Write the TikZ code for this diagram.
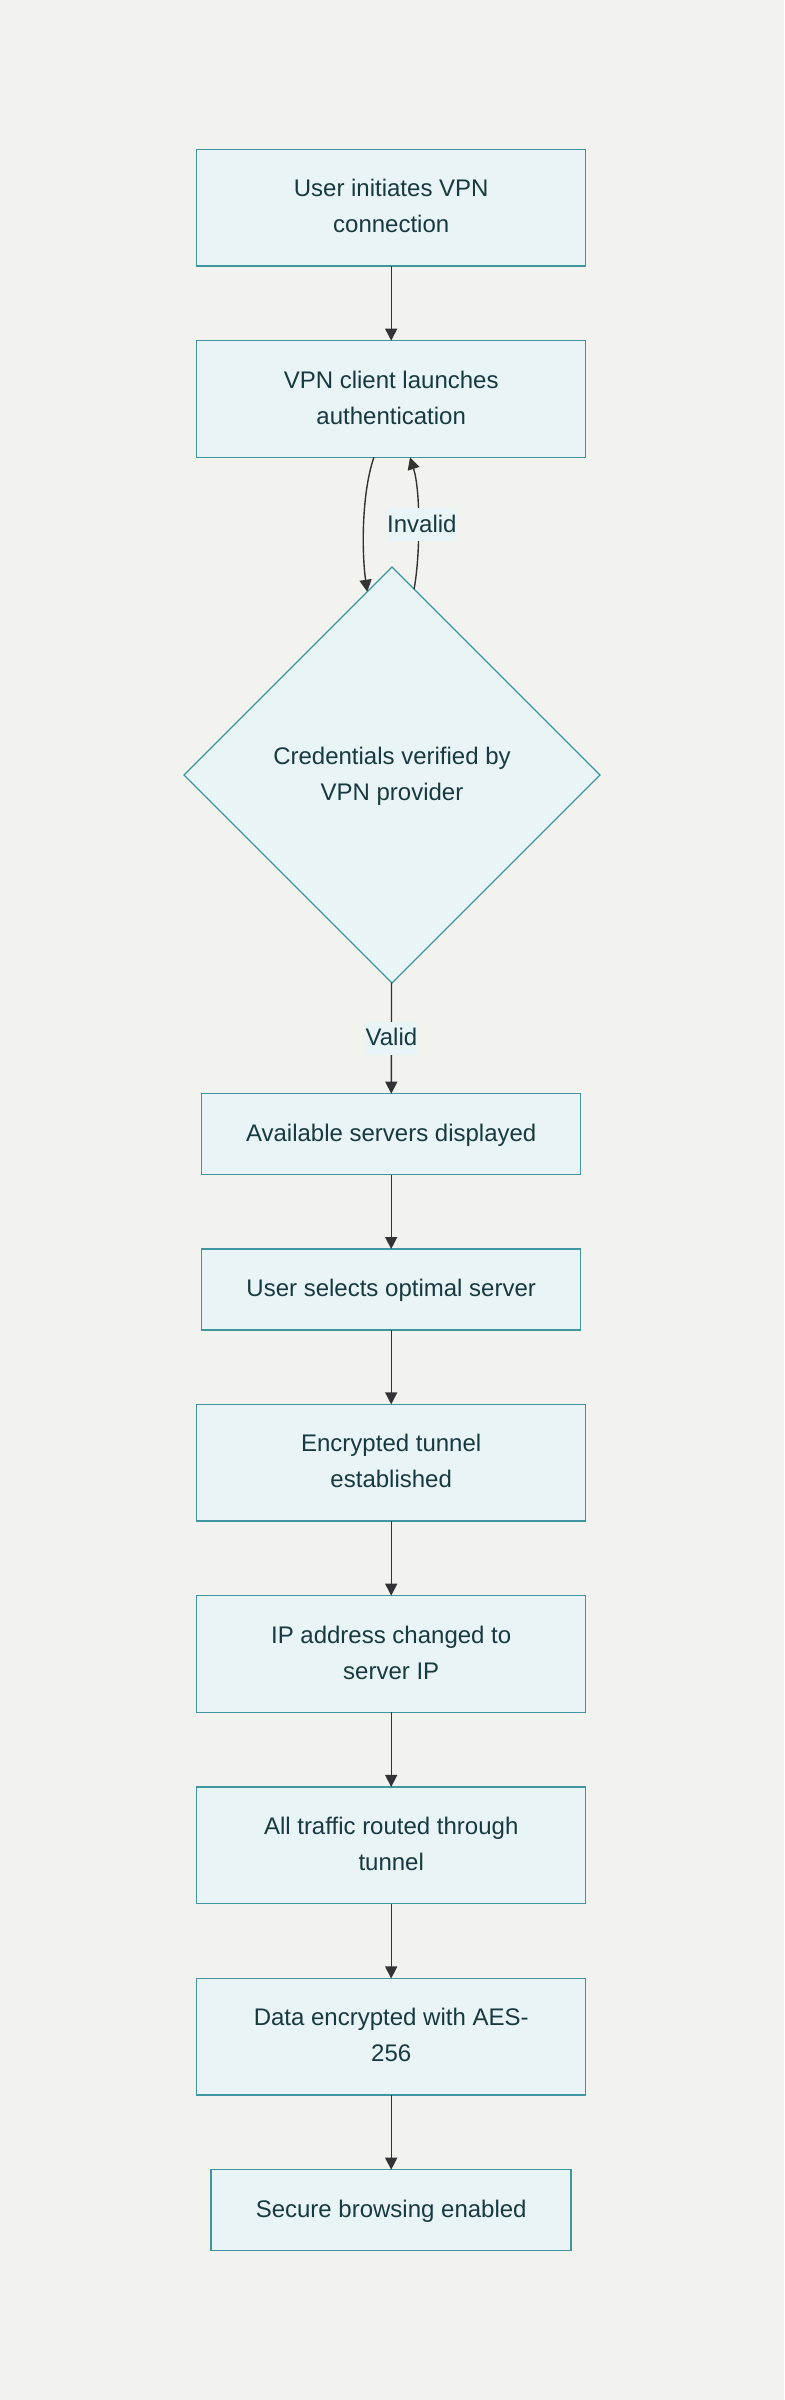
\documentclass[tikz,border=0pt]{standalone}
\usepackage{fontspec}
\setmainfont{Liberation Sans}
\usetikzlibrary{arrows.meta,shapes.geometric,calc}
\definecolor{bgc}{HTML}{F2F3EE}
\definecolor{boxfill}{HTML}{E8F4F5}
\definecolor{boxline}{HTML}{3F96A0}
\definecolor{txt}{HTML}{17393F}
\definecolor{arrc}{HTML}{333333}
\newcommand\ls{\rule[-11pt]{0pt}{36pt}}
\newcommand\lbs{\rule[-9pt]{0pt}{33pt}}
\tikzset{
  stepbox/.style={draw=boxline, line width=1.5pt, fill=boxfill, rectangle,
    inner sep=0pt, outer sep=0pt, align=center, text=txt,
    font=\fontsize{24}{36}\selectfont},
  wide/.style={stepbox, minimum width=389pt, minimum height=116.7pt},
  mid/.style={stepbox, minimum width=379pt, minimum height=81pt},
  decision/.style={draw=boxline, line width=1.2pt, fill=boxfill, diamond, aspect=1,
    minimum width=416pt, minimum height=416pt, inner sep=0pt, outer sep=0pt,
    align=center, text=txt, font=\fontsize{24}{36}\selectfont},
  arr/.style={draw=arrc, line width=1.4pt, -{Triangle[length=12pt,width=12pt]}},
  lbl/.style={fill=boxfill, inner sep=0pt, outer sep=0pt, text=txt,
    font=\fontsize{24}{33}\selectfont}
}
\begin{document}
\begin{tikzpicture}[x=1pt,y=-1pt]
\useasboundingbox (0,0) rectangle (784,2400);
\fill[bgc] (0,0) rectangle (784,2400);

\node[wide] (b1) at (391.2,207.7) {\ls User initiates VPN\\\ls connection};
\node[wide] (b2) at (391.2,399) {\ls VPN client launches\\\ls authentication};
\node[decision] (d) at (392,775) {\ls Credentials verified by\\\ls VPN provider};
\node[mid] (b3) at (391.2,1134.2) {\ls Available servers displayed};
\node[mid] (b4) at (391.2,1289.5) {\ls User selects optimal server};
\node[wide] (b5) at (391.2,1462.7) {\ls Encrypted tunnel\\\ls established};
\node[wide] (b6) at (391.2,1654) {\ls IP address changed to\\\ls server IP};
\node[wide] (b7) at (391.2,1845.3) {\ls All traffic routed through\\\ls tunnel};
\node[wide] (b8) at (391.2,2036.8) {\ls Data encrypted with AES-\\\ls 256};
\node[stepbox, minimum width=360pt, minimum height=81pt] (b9) at (391.2,2210.2) {\ls Secure browsing enabled};

\draw[arr] (b1) -- (b2);
\coordinate (dl) at ($(d.north)!0.119!(d.west)$);
\coordinate (dr) at ($(d.north)!0.106!(d.east)$);
\coordinate (b2l) at ([xshift=-17.3pt]b2.south);
\coordinate (b2r) at ([xshift=18.8pt]b2.south);
\draw[arr] (b2l) .. controls (361,495) and (362,555) .. (dl);
\draw[arr] (dr) .. controls (420,558) and (421,492) .. node[lbl, pos=0.5, xshift=3.5pt] (linv) {\lbs Invalid} (b2r);
\draw[arr] (d) -- node[lbl, pos=0.5] (lval) {\lbs Valid} (b3);
\draw[arr] (b3) -- (b4);
\draw[arr] (b4) -- (b5);
\draw[arr] (b5) -- (b6);
\draw[arr] (b6) -- (b7);
\draw[arr] (b7) -- (b8);
\draw[arr] (b8) -- (b9);
\end{tikzpicture}
\end{document}
